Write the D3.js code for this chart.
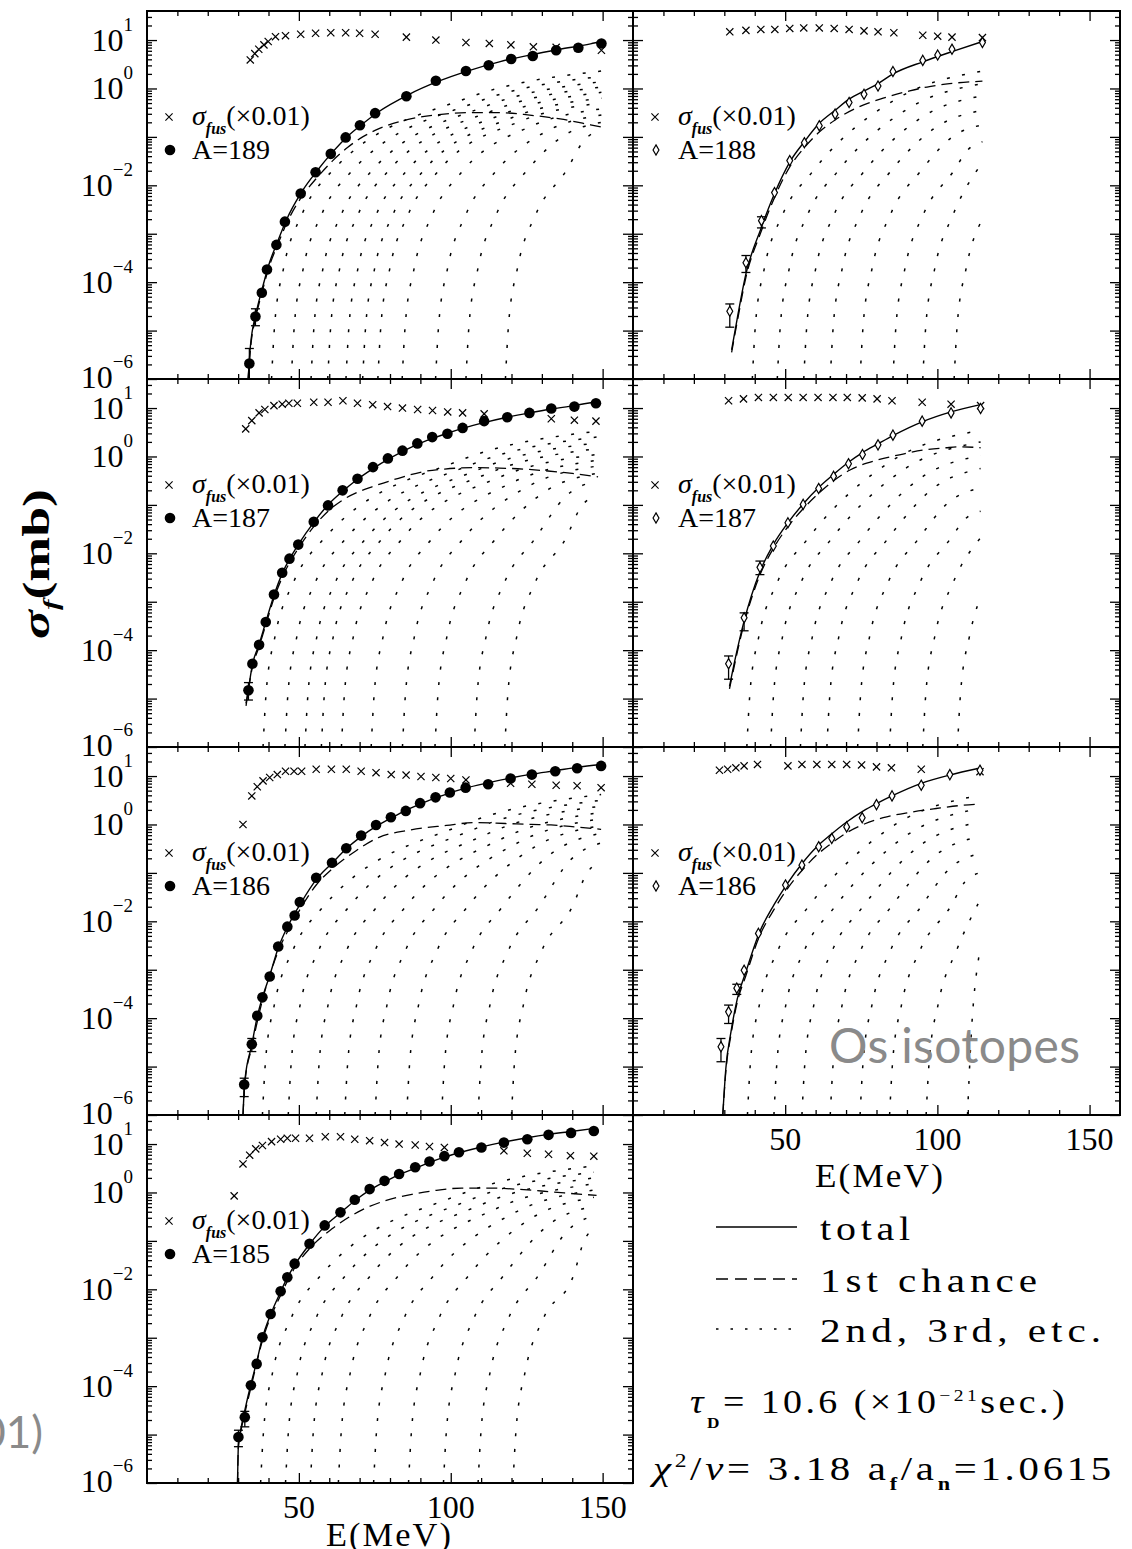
<!DOCTYPE html>
<html>
<head>
<meta charset="utf-8">
<script src="https://cdn.jsdelivr.net/npm/d3@7"></script>
<style>
body { margin: 0; background: #fff; }
svg { display: block; }
text { font-family: "Liberation Serif", "DejaVu Serif", serif; fill: #000; }
</style>
</head>
<body>
<svg id="fig" width="1132" height="1549"></svg>
<script>
// every pair is [E (MeV), log10(sigma / mb)], error bars are [E, low, high]

var a189Data = [[33.7,-5.68],[35.7,-4.71],[37.8,-4.22],[39.5,-3.74],[42.6,-3.23],[45.4,-2.75],[50.6,-2.17],[55.5,-1.73],[60.5,-1.35],[65.4,-1.01],[70.1,-0.76],[75.1,-0.51],[85.4,-0.16],[95.1,0.16],[105,0.36],[112.5,0.48],[119.9,0.61],[127,0.67],[134.7,0.79],[142,0.84],[149.6,0.93]];
var a189Err = [[33.7,-6.2,-5.37],[35.7,-4.9,-4.55]];
var a189Fus = [[34.0,0.59],[35.5,0.72],[36.8,0.81],[38.5,0.90],[39.9,0.97],[42.3,1.07],[45.6,1.09],[50.6,1.12],[55.5,1.14],[60.5,1.15],[65.4,1.15],[70.0,1.14],[75.1,1.12],[85.4,1.06],[95.1,1.0],[105,0.95],[112.7,0.93],[119.8,0.90],[127.2,0.86],[134.7,0.85],[142,0.83],[149.6,0.79]];
var a189Total = [[33.3,-6],[34,-5.35],[36,-4.62],[38,-4.12],[40,-3.66],[43,-3.16],[46,-2.7],[51,-2.13],[56,-1.7],[61,-1.32],[66,-0.99],[71,-0.73],[76,-0.49],[86,-0.13],[96,0.15],[106,0.37],[116,0.55],[126,0.69],[136,0.81],[146,0.92],[150,0.98]];
var a189First = [[33.3,-6],[34,-5.42],[36,-4.68],[38,-4.18],[40,-3.72],[43,-3.23],[46,-2.78],[51,-2.23],[56,-1.84],[61,-1.5],[66,-1.22],[71,-1.0],[76,-0.84],[86,-0.64],[96,-0.54],[106,-0.5],[116,-0.5],[126,-0.55],[136,-0.63],[146,-0.75],[150,-0.8]];
var a189Chances = [
  [[41,-6],[42,-4.9],[45,-3.7],[51,-2.6],[61,-1.7],[105.3,-0.2],[149.6,0.36]],
  [[47.5,-6],[48.5,-4.9],[51.5,-3.7],[57.5,-2.6],[67.5,-1.7],[108.6,-0.28],[149.6,0.25]],
  [[54,-6],[55,-4.9],[58,-3.7],[64,-2.6],[74,-1.7],[111.8,-0.36],[149.6,0.14]],
  [[59.5,-6],[60.5,-4.9],[63.5,-3.7],[69.5,-2.6],[79.5,-1.7],[114.6,-0.44],[149.6,0.03]],
  [[65.5,-6],[66.5,-4.9],[69.5,-3.7],[75.5,-2.6],[85.5,-1.7],[117.6,-0.52],[149.6,-0.08]],
  [[71,-6],[72,-4.9],[75,-3.7],[81,-2.6],[91,-1.7],[120.3,-0.6],[149.6,-0.2]],
  [[76,-6],[77,-4.9],[80,-3.7],[86,-2.6],[96,-1.7],[122.8,-0.68],[149.6,-0.3]],
  [[84,-6],[85,-4.9],[88,-3.7],[94,-2.6],[104,-1.7],[126.8,-0.77],[149.6,-0.42]],
  [[95,-6],[96,-4.9],[99,-3.7],[105,-2.6],[115,-1.7],[132.3,-0.86],[149.6,-0.55]],
  [[105,-6],[106,-4.9],[109,-3.7],[115,-2.6],[125,-1.7],[137.3,-0.97],[149.6,-0.7]],
  [[118,-6],[119,-4.9],[122,-3.7],[128,-2.6],[138,-1.7],[143.8,-1.08],[149.6,-0.85]]
];

var a187Data = [[33.4,-4.83],[34.7,-4.28],[36.9,-3.89],[39.1,-3.42],[41.8,-2.85],[44.5,-2.40],[46.9,-2.11],[49.8,-1.82],[54.9,-1.35],[59.6,-1.01],[64.4,-0.70],[69.3,-0.46],[74.4,-0.22],[79.3,-0.04],[84.1,0.12],[89.0,0.27],[93.9,0.40],[98.9,0.47],[103.9,0.59],[111.0,0.73],[118.6,0.81],[125.9,0.90],[133.1,0.99],[140.7,1.03],[147.8,1.10]];
var a187Err = [[33.4,-5.03,-4.67]];
var a187Fus = [[32.5,0.57],[34.5,0.74],[36.9,0.90],[38.8,0.97],[41.8,1.05],[44.5,1.08],[46.7,1.10],[49.5,1.10],[54.9,1.12],[59.6,1.12],[64.5,1.15],[69.3,1.10],[74.3,1.07],[79.2,1.03],[84.1,1.0],[89.1,0.97],[94.0,0.95],[99.0,0.92],[103.9,0.90],[111.0,0.88],[133.1,0.78],[140.7,0.75],[147.8,0.73]];
var a187Total = [[32.6,-5.1],[33.4,-4.8],[34.7,-4.3],[36.9,-3.88],[39.1,-3.42],[41.8,-2.87],[44.5,-2.42],[46.9,-2.12],[49.8,-1.82],[54.9,-1.36],[59.6,-1.0],[64.4,-0.72],[69.3,-0.47],[74.4,-0.25],[79.3,-0.06],[84.1,0.1],[89,0.25],[93.9,0.37],[98.9,0.48],[103.9,0.58],[111,0.7],[118.6,0.81],[125.9,0.9],[133.1,0.98],[140.7,1.05],[148.5,1.14]];
var a187First = [[32.6,-5.15],[34.7,-4.35],[36.9,-3.93],[39.1,-3.48],[41.8,-2.93],[44.5,-2.5],[49.8,-1.9],[54.9,-1.45],[59.6,-1.13],[64.4,-0.9],[69.3,-0.74],[74.4,-0.62],[82.8,-0.45],[90.4,-0.32],[98,-0.26],[108,-0.23],[116,-0.24],[124,-0.26],[132,-0.3],[140,-0.35],[148.5,-0.42]];
var a187Chances = [
  [[38.2,-6],[39.2,-4.9],[42.2,-3.7],[48.2,-2.6],[58.2,-1.7],[103.1,-0.08],[148,0.52]],
  [[45.4,-6],[46.4,-4.9],[49.4,-3.7],[55.4,-2.6],[65.4,-1.7],[106.7,-0.17],[148,0.4]],
  [[52,-6],[53,-4.9],[56,-3.7],[62,-2.6],[72,-1.7],[110,-0.25],[148,0.28]],
  [[57.4,-6],[58.4,-4.9],[61.4,-3.7],[67.4,-2.6],[77.4,-1.7],[112.7,-0.34],[148,0.16]],
  [[64,-6],[65,-4.9],[68,-3.7],[74,-2.6],[84,-1.7],[116,-0.43],[148,0.04]],
  [[73.8,-6],[74.8,-4.9],[77.8,-3.7],[83.8,-2.6],[93.8,-1.7],[120.9,-0.52],[148,-0.08]],
  [[84.1,-6],[85.1,-4.9],[88.1,-3.7],[94.1,-2.6],[104.1,-1.7],[126,-0.6],[148,-0.2]],
  [[94.8,-6],[95.8,-4.9],[98.8,-3.7],[104.8,-2.6],[114.8,-1.7],[131.4,-0.71],[148,-0.35]],
  [[107.7,-6],[108.7,-4.9],[111.7,-3.7],[117.7,-2.6],[127.7,-1.7],[137.9,-0.82],[148,-0.5]],
  [[117.8,-6],[118.8,-4.9],[121.8,-3.7],[127.8,-2.6],[137.8,-1.7],[142.9,-1.04],[148,-0.8]]
];

var a186Data = [[32.0,-5.37],[34.5,-4.54],[36.3,-3.95],[38.0,-3.57],[40.4,-3.14],[43.2,-2.52],[46.2,-2.11],[48.6,-1.88],[50.3,-1.6],[55.7,-1.10],[60.9,-0.79],[65.6,-0.49],[70.5,-0.23],[75.4,-0.01],[80.3,0.15],[85.2,0.28],[89.9,0.44],[95.0,0.56],[99.7,0.66],[104.9,0.76],[112.3,0.83],[119.7,0.95],[126.7,1.03],[134.4,1.10],[141.6,1.16],[149.5,1.21]];
var a186Err = [[32.0,-5.62,-5.24],[34.5,-4.69,-4.42]];
var a186Fus = [[31.6,0.0],[34.5,0.59],[36.3,0.78],[38.2,0.9],[40.4,0.97],[42.9,1.03],[45.6,1.10],[48.4,1.10],[50.9,1.10],[55.7,1.14],[60.7,1.14],[65.6,1.14],[70.5,1.10],[75.4,1.07],[80.4,1.03],[85.3,1.02],[90.2,0.99],[95.1,0.97],[100,0.95],[105,0.92],[119.7,0.85],[126.7,0.83],[134.7,0.81],[141.6,0.80],[149.5,0.76]];
var a186Total = [[31.6,-6],[32.2,-5.3],[34.5,-4.55],[36.3,-3.97],[38,-3.57],[40.4,-3.12],[43.2,-2.55],[46.2,-2.12],[48.6,-1.84],[50.3,-1.66],[55.7,-1.14],[60.9,-0.8],[65.6,-0.5],[70.5,-0.25],[75.4,-0.04],[80.3,0.13],[85.2,0.29],[89.9,0.42],[95,0.55],[99.7,0.65],[104.9,0.75],[112.3,0.86],[119.7,0.96],[126.7,1.04],[134.4,1.11],[141.6,1.18],[149.5,1.24]];
var a186First = [[31.6,-6],[32.2,-5.35],[34.5,-4.6],[38,-3.63],[43.2,-2.62],[48.6,-1.95],[55.7,-1.25],[60.9,-0.92],[67.5,-0.6],[76.2,-0.27],[86,-0.12],[98.6,-0.02],[108,0.04],[118,0.02],[126.5,0.0],[133,-0.01],[141,-0.05],[149.5,-0.1]];
var a186Chances = [
  [[38,-6],[39,-4.9],[42,-3.7],[48,-2.6],[58,-1.7],[103.8,-0.01],[149.5,0.62]],
  [[46.5,-6],[47.5,-4.9],[50.5,-3.7],[56.5,-2.6],[66.5,-1.7],[108,-0.09],[149.5,0.5]],
  [[55.7,-6],[56.7,-4.9],[59.7,-3.7],[65.7,-2.6],[75.7,-1.7],[112.6,-0.18],[149.5,0.38]],
  [[65.1,-6],[66.1,-4.9],[69.1,-3.7],[75.1,-2.6],[85.1,-1.7],[117.3,-0.28],[149.5,0.25]],
  [[75.1,-6],[76.1,-4.9],[79.1,-3.7],[85.1,-2.6],[95.1,-1.7],[122.3,-0.37],[149.5,0.12]],
  [[85.5,-6],[86.5,-4.9],[89.5,-3.7],[95.5,-2.6],[105.5,-1.7],[127.5,-0.47],[149.5,-0.02]],
  [[97,-6],[98,-4.9],[101,-3.7],[107,-2.6],[117,-1.7],[133.3,-0.59],[149.5,-0.18]],
  [[109,-6],[110,-4.9],[113,-3.7],[119,-2.6],[129,-1.7],[139.3,-0.74],[149.5,-0.38]],
  [[120,-6],[121,-4.9],[124,-3.7],[130,-2.6],[140,-1.7],[144.8,-1.01],[149.5,-0.75]]
];

var a185Data = [[30.1,-5.05],[32.2,-4.64],[34.2,-3.98],[36.1,-3.54],[38.0,-2.99],[40.7,-2.51],[44.0,-2.04],[46.2,-1.75],[48.6,-1.47],[53.5,-1.06],[58.5,-0.68],[63.7,-0.41],[68.4,-0.15],[73.3,0.07],[78.2,0.24],[83.0,0.38],[88.3,0.52],[93.0,0.64],[97.9,0.75],[102.7,0.83],[110.1,0.93],[117.5,1.03],[125.2,1.10],[132.2,1.19],[139.6,1.23],[147.1,1.27]];
var a185Err = [[30.1,-5.25,-4.91],[32.2,-4.84,-4.52]];
var a185Fus = [[28.7,-0.07],[31.6,0.59],[33.8,0.77],[35.8,0.9],[38.0,0.97],[41.0,1.05],[44.0,1.10],[46.2,1.12],[48.9,1.12],[53.5,1.12],[58.7,1.15],[63.7,1.15],[68.4,1.10],[73.3,1.07],[78.2,1.03],[83.0,1.0],[88.3,0.98],[93.0,0.95],[97.9,0.93],[117.5,0.86],[125.2,0.81],[132.2,0.79],[139.4,0.76],[147.1,0.75]];
var a185Total = [[29.8,-6],[30.1,-5.2],[31,-4.85],[32.2,-4.5],[34.2,-3.96],[36.1,-3.5],[38,-3.0],[40.7,-2.52],[44,-2.05],[46.2,-1.76],[48.6,-1.5],[53.5,-1.07],[58.5,-0.7],[63.7,-0.42],[68.4,-0.17],[73.3,0.05],[78.2,0.22],[83,0.37],[88.3,0.5],[93,0.62],[97.9,0.73],[102.7,0.82],[110.1,0.94],[117.5,1.04],[125.2,1.13],[132.2,1.2],[139.6,1.26],[148,1.33]];
var a185First = [[29.8,-6],[30.1,-5.25],[31,-4.9],[32.2,-4.56],[34.2,-4.03],[38,-3.06],[44,-2.12],[48.6,-1.56],[53.5,-1.16],[60.9,-0.75],[70.8,-0.36],[78.4,-0.17],[87.2,-0.04],[94.8,0.04],[103.6,0.09],[113.4,0.09],[121.1,0.07],[129.8,0.03],[137.4,-0.01],[148,-0.06]];
var a185Chances = [
  [[37.4,-6],[38.4,-4.9],[41.4,-3.7],[47.4,-2.6],[57.4,-1.7],[102.3,-0.06],[147.1,0.55]],
  [[45.6,-6],[46.6,-4.9],[49.6,-3.7],[55.6,-2.6],[65.6,-1.7],[106.4,-0.15],[147.1,0.42]],
  [[53.8,-6],[54.8,-4.9],[57.8,-3.7],[63.8,-2.6],[73.8,-1.7],[110.5,-0.24],[147.1,0.3]],
  [[63,-6],[64,-4.9],[67,-3.7],[73,-2.6],[83,-1.7],[115.1,-0.33],[147.1,0.18]],
  [[74.6,-6],[75.6,-4.9],[78.6,-3.7],[84.6,-2.6],[94.6,-1.7],[120.9,-0.42],[147.1,0.05]],
  [[86.1,-6],[87.1,-4.9],[90.1,-3.7],[96.1,-2.6],[106.1,-1.7],[126.6,-0.53],[147.1,-0.1]],
  [[97.6,-6],[98.6,-4.9],[101.6,-3.7],[107.6,-2.6],[117.6,-1.7],[132.4,-0.66],[147.1,-0.28]],
  [[109,-6],[110,-4.9],[113,-3.7],[119,-2.6],[129,-1.7],[138.1,-0.81],[147.1,-0.48]],
  [[120.5,-6],[121.5,-4.9],[124.5,-3.7],[130.5,-2.6],[140.5,-1.7],[143.8,-1.01],[147.1,-0.75]]
];

var a188Data = [[31.8,-4.6],[37.1,-3.6],[42.2,-2.73],[46.5,-2.15],[51.5,-1.49],[56.3,-1.12],[61.2,-0.77],[66.4,-0.53],[71.0,-0.29],[75.9,-0.12],[80.5,0.05],[85.4,0.35],[95.2,0.58],[100.1,0.69],[104.8,0.81],[114.8,0.95]];
var a188Err = [[31.8,-4.93,-4.45],[37.1,-3.8,-3.45],[42.2,-2.88,-2.65]];
var a188Fus = [[31.8,1.17],[37.1,1.2],[42.0,1.22],[46.6,1.22],[51.5,1.24],[56.1,1.25],[61.2,1.25],[66.1,1.24],[71.0,1.22],[75.9,1.19],[80.5,1.17],[85.7,1.15],[95.2,1.1],[100.1,1.08],[104.8,1.06],[114.8,1.05]];
var a188Total = [[32.4,-5.4],[34.3,-4.73],[37.1,-3.83],[42,-2.9],[46.3,-2.2],[51.5,-1.52],[56.3,-1.1],[61.2,-0.72],[66.4,-0.45],[71,-0.22],[75.9,-0.05],[80.5,0.1],[85.4,0.3],[95.2,0.55],[100.1,0.66],[104.8,0.76],[114.8,0.97]];
var a188First = [[32.4,-5.45],[34.3,-4.8],[37.1,-3.9],[42,-2.97],[46.3,-2.28],[51.5,-1.62],[56.3,-1.22],[61.2,-0.9],[66.4,-0.65],[73.5,-0.4],[82.2,-0.2],[90.9,-0.05],[97.4,0.04],[104,0.1],[114.8,0.15]];
var a188Chances = [
  [[39.2,-6],[40.2,-4.9],[43.2,-3.7],[49.2,-2.6],[59.2,-1.7],[87,-0.2],[114.8,0.36]],
  [[47.4,-6],[48.4,-4.9],[51.4,-3.7],[57.4,-2.6],[67.4,-1.7],[91.1,-0.39],[114.8,0.1]],
  [[56.1,-6],[57.1,-4.9],[60.1,-3.7],[66.1,-2.6],[76.1,-1.7],[95.5,-0.57],[114.8,-0.15]],
  [[64.8,-6],[65.8,-4.9],[68.8,-3.7],[74.8,-2.6],[84.8,-1.7],[99.8,-0.79],[114.8,-0.45]],
  [[74.6,-6],[75.6,-4.9],[78.6,-3.7],[84.6,-2.6],[94.6,-1.7],[104.7,-1.01],[114.8,-0.75]],
  [[85.4,-6],[86.4,-4.9],[89.4,-3.7],[95.4,-2.6],[105.4,-1.7],[110.1,-1.26],[114.8,-1.1]],
  [[95.2,-6],[96.2,-4.9],[99.2,-3.7],[105.2,-2.6],[114.8,-1.53]],
  [[105.5,-6],[106.5,-4.9],[109.5,-3.7],[114.8,-2.7]]
];

var a187rData = [[31.4,-4.28],[36.5,-3.33],[41.7,-2.29],[46.1,-1.85],[50.9,-1.37],[55.9,-0.99],[61.0,-0.66],[65.9,-0.41],[70.8,-0.15],[75.4,0.04],[80.5,0.24],[85.4,0.44],[95.0,0.73],[104.5,0.90],[114.2,0.99]];
var a187rErr = [[31.4,-4.6,-4.12],[36.5,-3.6,-3.23],[41.7,-2.44,-2.16]];
var a187rFus = [[31.4,1.15],[36.3,1.19],[41.2,1.22],[46.1,1.22],[51.0,1.22],[55.9,1.22],[60.8,1.22],[65.7,1.22],[70.4,1.22],[75.3,1.21],[80.2,1.19],[85.1,1.15],[95.0,1.12],[104.5,1.08],[114.2,1.05]];
var a187rTotal = [[31.7,-4.75],[33.5,-4.2],[36.5,-3.4],[41.7,-2.38],[46.1,-1.82],[50.9,-1.37],[55.9,-0.98],[61,-0.64],[65.9,-0.37],[70.8,-0.12],[75.4,0.08],[80.5,0.26],[85.4,0.43],[95.2,0.72],[104.5,0.92],[114.2,1.07]];
var a187rFirst = [[31.7,-4.8],[36.5,-3.45],[41.7,-2.45],[46.1,-1.9],[50.9,-1.45],[55.9,-1.08],[61,-0.76],[65.9,-0.5],[71.3,-0.28],[80,-0.08],[88.7,0.05],[95.2,0.13],[102.8,0.18],[108,0.2],[114.2,0.18]];
var a187rChances = [
  [[37.4,-6],[38.4,-4.9],[41.4,-3.7],[47.4,-2.6],[57.4,-1.7],[85.8,-0.06],[114.2,0.54]],
  [[45.2,-6],[46.2,-4.9],[49.2,-3.7],[55.2,-2.6],[65.2,-1.7],[89.7,-0.24],[114.2,0.3]],
  [[55,-6],[56,-4.9],[59,-3.7],[65,-2.6],[75,-1.7],[94.6,-0.44],[114.2,0.02]],
  [[63.7,-6],[64.7,-4.9],[67.7,-3.7],[73.7,-2.6],[83.7,-1.7],[99,-0.64],[114.2,-0.25]],
  [[73.8,-6],[74.8,-4.9],[77.8,-3.7],[83.8,-2.6],[93.8,-1.7],[104,-0.93],[114.2,-0.65]],
  [[84.3,-6],[85.3,-4.9],[88.3,-3.7],[94.3,-2.6],[104.3,-1.7],[109.3,-1.28],[114.2,-1.13]],
  [[95.2,-6],[96.2,-4.9],[99.2,-3.7],[105.2,-2.6],[114.2,-1.68]],
  [[106.6,-6],[107.6,-4.9],[110.6,-3.7],[114.2,-2.9]]
];

var a186rData = [[28.9,-4.59],[31.4,-3.87],[34.1,-3.38],[36.5,-3.01],[41.2,-2.25],[50.1,-1.25],[55.5,-0.84],[61.0,-0.46],[65.3,-0.29],[70.2,-0.05],[75.3,0.14],[80.0,0.41],[85.1,0.59],[94.7,0.81],[104.1,1.03],[114.0,1.12]];
var a186rErr = [[28.9,-4.9,-4.42],[31.4,-4.11,-3.73],[34.1,-3.51,-3.3]];
var a186rFus = [[28.4,1.12],[31.1,1.14],[33.8,1.17],[36.5,1.21],[40.9,1.24],[50.9,1.21],[55.5,1.24],[60.4,1.24],[65.3,1.24],[70.2,1.24],[75.1,1.23],[80.0,1.19],[84.9,1.17],[94.7,1.14],[114.0,1.09]];
var a186rTotal = [[29.5,-6],[30.5,-5.04],[32.2,-4.28],[34.3,-3.59],[37.1,-3.04],[41.4,-2.25],[46.3,-1.66],[50.7,-1.22],[55.5,-0.81],[60.4,-0.46],[64.8,-0.22],[70.2,0.05],[75.7,0.28],[80,0.43],[85.4,0.6],[94.7,0.85],[104,1.02],[113.7,1.16]];
var a186rFirst = [[29.5,-6],[30.5,-5.1],[32.2,-4.34],[34.3,-3.66],[37.1,-3.12],[41.4,-2.33],[46.3,-1.76],[50.7,-1.33],[55.5,-0.95],[60.4,-0.63],[65,-0.4],[70.2,-0.17],[76,0.01],[82.2,0.14],[90.9,0.25],[99.6,0.33],[107.2,0.39],[113.7,0.42]];
var a186rChances = [
  [[37.6,-6],[38.6,-4.9],[41.6,-3.7],[47.6,-2.6],[57.6,-1.7],[85.7,-0.02],[113.7,0.6]],
  [[46.3,-6],[47.3,-4.9],[50.3,-3.7],[56.3,-2.6],[66.3,-1.7],[90,-0.22],[113.7,0.33]],
  [[55.5,-6],[56.5,-4.9],[59.5,-3.7],[65.5,-2.6],[75.5,-1.7],[94.6,-0.42],[113.7,0.05]],
  [[64.8,-6],[65.8,-4.9],[68.8,-3.7],[74.8,-2.6],[84.8,-1.7],[99.3,-0.64],[113.7,-0.25]],
  [[74.6,-6],[75.6,-4.9],[78.6,-3.7],[84.6,-2.6],[94.6,-1.7],[104.2,-0.9],[113.7,-0.6]],
  [[84.3,-6],[85.3,-4.9],[88.3,-3.7],[94.3,-2.6],[104.3,-1.7],[109,-1.19],[113.7,-1.0]],
  [[96.3,-6],[97.3,-4.9],[100.3,-3.7],[106.3,-2.6],[113.7,-1.6]],
  [[109.9,-6],[110.9,-4.6],[113.7,-2.7]]
];

var yLabelExps = [1, 0, -2, -4, -6];
var xLabels = [50, 100, 150];
var xMinor = [10, 20, 30, 40, 60, 70, 80, 90, 110, 120, 130, 140];

var panels = [
  {col: 0, row: 0, name: "A=189", open: false, data: a189Data, err: a189Err, fus: a189Fus, total: a189Total, first: a189First, chances: a189Chances},
  {col: 0, row: 1, name: "A=187", open: false, data: a187Data, err: a187Err, fus: a187Fus, total: a187Total, first: a187First, chances: a187Chances},
  {col: 0, row: 2, name: "A=186", open: false, data: a186Data, err: a186Err, fus: a186Fus, total: a186Total, first: a186First, chances: a186Chances},
  {col: 0, row: 3, name: "A=185", open: false, data: a185Data, err: a185Err, fus: a185Fus, total: a185Total, first: a185First, chances: a185Chances},
  {col: 1, row: 0, name: "A=188", open: true, data: a188Data, err: a188Err, fus: a188Fus, total: a188Total, first: a188First, chances: a188Chances},
  {col: 1, row: 1, name: "A=187", open: true, data: a187rData, err: a187rErr, fus: a187rFus, total: a187rTotal, first: a187rFirst, chances: a187rChances},
  {col: 1, row: 2, name: "A=186", open: true, data: a186rData, err: a186rErr, fus: a186rFus, total: a186rTotal, first: a186rFirst, chances: a186rChances}
];

//////////////////////////////////////////////////////////////////////////////

var colX = [[147, 633], [633, 1120]];
var rowTop = 11, rowH = 368;
var lastRow = [3, 2];
var logTop = 1.6;

function sig(v) { return Math.pow(10, v); }

var crossPath = "M-3.6,-3.6L3.6,3.6M-3.6,3.6L3.6,-3.6";
var diamond = d3.symbol().type(d3.symbolDiamond).size(30)();

var majors = d3.range(-6, 2).map(sig);
var minors = [];
d3.range(-6, 2).forEach(function(e) {
  d3.range(2, 10).forEach(function(k) {
    if (k * sig(e) < sig(logTop)) minors.push(k * sig(e));
  });
});

var svg = d3.select("#fig");
var defs = svg.append("defs");

function sup(t, s, size, dy) {
  t.append("tspan").attr("dy", dy).style("font-size", size + "px").text(s);
}

// the original lettering is a wide plotter font: widen the text to the measured length
function wide(t, len) {
  return t.attr("textLength", len).attr("lengthAdjust", "spacingAndGlyphs");
}

panels.forEach(function(p, i) {
  var x0 = colX[p.col][0], x1 = colX[p.col][1];
  var y0 = rowTop + p.row * rowH, y1 = y0 + rowH;

  var x = d3.scaleLinear().domain([0, 160]).range([x0, x1]);
  var y = d3.scaleLog().domain([1e-6, sig(logTop)]).range([y1, y0]);

  defs.append("clipPath").attr("id", "clip" + i)
    .append("rect").attr("x", x0).attr("y", y0).attr("width", x1 - x0).attr("height", y1 - y0);

  var g = svg.append("g").attr("class", "panel");
  var plot = g.append("g").attr("clip-path", "url(#clip" + i + ")");

  var line = d3.line()
    .x(function(d){ return x(d[0]); })
    .y(function(d){ return y(sig(d[1])); })
    .curve(d3.curveMonotoneX);

  plot.selectAll("path.chance")
      .data(p.chances)
      .enter().append("path")
      .attr("class", "chance")
      .attr("d", line)
      .attr("fill", "none")
      .attr("stroke", "#000")
      .attr("stroke-width", 1.5)
      .attr("stroke-dasharray", "3,12.5");

  plot.append("path")
      .attr("d", line(p.first))
      .attr("fill", "none")
      .attr("stroke", "#000")
      .attr("stroke-width", 1.3)
      .attr("stroke-dasharray", "11,6");

  plot.append("path")
      .attr("d", line(p.total))
      .attr("fill", "none")
      .attr("stroke", "#000")
      .attr("stroke-width", 1.4);

  plot.selectAll("path.fus")
      .data(p.fus)
      .enter().append("path")
      .attr("class", "fus")
      .attr("d", crossPath)
      .attr("transform", function(d){ return "translate(" + x(d[0]) + "," + y(sig(d[1])) + ")"; })
      .attr("stroke", "#000")
      .attr("stroke-width", 1.2)
      .attr("fill", "none");

  var eb = plot.selectAll("g.err")
      .data(p.err)
      .enter().append("g")
      .attr("class", "err")
      .attr("stroke", "#000")
      .attr("stroke-width", 1.3);
  eb.append("line")
      .attr("x1", function(d){ return x(d[0]); }).attr("x2", function(d){ return x(d[0]); })
      .attr("y1", function(d){ return y(sig(d[1])); }).attr("y2", function(d){ return y(sig(d[2])); });
  eb.append("line")
      .attr("x1", function(d){ return x(d[0]) - 4.5; }).attr("x2", function(d){ return x(d[0]) + 4.5; })
      .attr("y1", function(d){ return y(sig(d[1])); }).attr("y2", function(d){ return y(sig(d[1])); });
  eb.append("line")
      .attr("x1", function(d){ return x(d[0]) - 4.5; }).attr("x2", function(d){ return x(d[0]) + 4.5; })
      .attr("y1", function(d){ return y(sig(d[2])); }).attr("y2", function(d){ return y(sig(d[2])); });

  if (p.open) {
    plot.selectAll("path.pt")
        .data(p.data)
        .enter().append("path")
        .attr("class", "pt")
        .attr("d", diamond)
        .attr("transform", function(d){ return "translate(" + x(d[0]) + "," + y(sig(d[1])) + ")"; })
        .attr("fill", "#fff")
        .attr("stroke", "#000")
        .attr("stroke-width", 1.2);
  } else {
    plot.selectAll("circle.pt")
        .data(p.data)
        .enter().append("circle")
        .attr("class", "pt")
        .attr("cx", function(d){ return x(d[0]); })
        .attr("cy", function(d){ return y(sig(d[1])); })
        .attr("r", 5.3)
        .attr("fill", "#000");
  }

  // inward ticks on all four sides
  function ticks(axis, tx, ty, vals, size) {
    var a = g.append("g")
      .attr("transform", "translate(" + tx + "," + ty + ")")
      .attr("color", "#000")
      .call(axis.tickValues(vals).tickSize(size).tickSizeOuter(0).tickFormat(""));
    a.select(".domain").remove();
    a.selectAll("line").attr("stroke-width", 1.3);
  }
  ticks(d3.axisRight(y), x0, 0, majors, 10);
  ticks(d3.axisRight(y), x0, 0, minors, 5);
  ticks(d3.axisLeft(y), x1, 0, majors, 10);
  ticks(d3.axisLeft(y), x1, 0, minors, 5);
  ticks(d3.axisBottom(x), 0, y0, xLabels, 10);
  ticks(d3.axisBottom(x), 0, y0, xMinor, 5);
  ticks(d3.axisTop(x), 0, y1, xLabels, 10);
  ticks(d3.axisTop(x), 0, y1, xMinor, 5);

  g.append("rect")
      .attr("x", x0).attr("y", y0)
      .attr("width", x1 - x0).attr("height", y1 - y0)
      .attr("fill", "none")
      .attr("stroke", "#000")
      .attr("stroke-width", 2);

  if (p.col === 0) {
    yLabelExps.forEach(function(e) {
      var t = g.append("text")
          .attr("x", 133)
          .attr("y", y(sig(e)) + (e === -6 ? 9 : 11))
          .attr("text-anchor", "end")
          .style("font-size", "32px");
      t.append("tspan").text("10");
      sup(t, e < 0 ? "\u2212" + (-e) : String(e), 19, -20);
    });
  }

  if (p.row === lastRow[p.col]) {
    g.selectAll("text.xl")
        .data(xLabels)
        .enter().append("text")
        .attr("class", "xl")
        .attr("x", function(d){ return x(d); })
        .attr("y", y1 + 35)
        .attr("text-anchor", "middle")
        .style("font-size", "32px")
        .text(function(d){ return d; });
  }

  // in-panel key
  g.append("path")
      .attr("d", crossPath)
      .attr("transform", "translate(" + (x0 + 22) + "," + (y0 + 106) + ")")
      .attr("stroke", "#000").attr("stroke-width", 1.1).attr("fill", "none");
  var kt = g.append("text").attr("x", x0 + 45).attr("y", y0 + 114).style("font-size", "28px");
  kt.append("tspan").style("font-style", "italic").text("\u03c3");
  kt.append("tspan").attr("dy", 9).style("font-size", "16px").style("font-style", "italic").style("font-weight", "bold").text("fus");
  kt.append("tspan").attr("dy", -9).text("(\u00d70.01)");

  if (p.open) {
    g.append("path").attr("d", diamond)
        .attr("transform", "translate(" + (x0 + 23) + "," + (y0 + 139) + ")")
        .attr("fill", "#fff").attr("stroke", "#000").attr("stroke-width", 1.2);
  } else {
    g.append("circle").attr("cx", x0 + 23).attr("cy", y0 + 139).attr("r", 5.3).attr("fill", "#000");
  }
  g.append("text").attr("x", x0 + 45).attr("y", y0 + 148).style("font-size", "28px").text(p.name);
});

// axis titles
var yt = svg.append("text")
    .attr("transform", "translate(49,564) rotate(-90)")
    .attr("text-anchor", "middle")
    .style("font-size", "38px")
    .style("font-weight", "bold");
yt.append("tspan").style("font-style", "italic").text("\u03c3");
yt.append("tspan").attr("dy", 9).style("font-size", "22px").style("font-style", "italic").text("f");
yt.append("tspan").attr("dy", -9).text("(mb)");
wide(yt, 150);

wide(svg.append("text").attr("x", 326).attr("y", 1546)
    .style("font-size", "33px").style("letter-spacing", "2px").text("E(MeV)"), 127);
wide(svg.append("text").attr("x", 815).attr("y", 1187)
    .style("font-size", "33px").style("letter-spacing", "2px").text("E(MeV)"), 130);

// curve key
var keyRows = [
  {label: "total", dash: null, y: 1227, w: 95},
  {label: "1st chance", dash: "12,7", y: 1279, w: 222},
  {label: "2nd, 3rd, etc.", dash: "2.5,12", y: 1329, w: 286}
];
keyRows.forEach(function(k) {
  svg.append("line")
      .attr("x1", 716).attr("x2", 797).attr("y1", k.y).attr("y2", k.y)
      .attr("stroke", "#000").attr("stroke-width", 1.4)
      .attr("stroke-dasharray", k.dash);
  wide(svg.append("text").attr("x", 820).attr("y", k.y + 13)
      .style("font-size", "33px").style("letter-spacing", "4px").text(k.label), k.w);
});

var tau = svg.append("text").attr("x", 690).attr("y", 1413).style("font-size", "33px").style("letter-spacing", "3px");
tau.append("tspan").style("font-style", "italic").text("\u03c4");
tau.append("tspan").attr("dy", 15).style("font-size", "15px").style("font-weight", "bold").text("D");
tau.append("tspan").attr("dy", -15).text("= 10.6 (\u00d710");
tau.append("tspan").attr("dy", -12).style("font-size", "17px").text("\u221221");
tau.append("tspan").attr("dy", 12).text("sec.)");
wide(tau, 378);

var chi = svg.append("text").attr("x", 653).attr("y", 1480).style("font-size", "33px").style("letter-spacing", "3px");
chi.append("tspan").style("font-style", "italic").text("\u03c7");
chi.append("tspan").attr("dy", -13).style("font-size", "19px").text("2");
chi.append("tspan").attr("dy", 13).html("/<tspan font-style='italic'>\u03bd</tspan>= 3.18  a");
chi.append("tspan").attr("dy", 10).style("font-size", "18px").style("font-weight", "bold").text("f");
chi.append("tspan").attr("dy", -10).text("/a");
chi.append("tspan").attr("dy", 10).style("font-size", "18px").style("font-weight", "bold").text("n");
chi.append("tspan").attr("dy", -10).text("=1.0615");
wide(chi, 462);

// grey overlay captions
svg.append("text").attr("x", 829).attr("y", 1063)
    .style("font-family", "Lato, 'Open Sans', sans-serif").style("font-size", "48px")
    .style("fill", "#8a8a8a").attr("textLength", 251).text("Os isotopes");
svg.append("text").attr("x", 43).attr("y", 1448).attr("text-anchor", "end")
    .style("font-family", "Lato, 'Open Sans', sans-serif").style("font-size", "44px")
    .style("fill", "#8a8a8a").text("01)");
</script>
</body>
</html>
